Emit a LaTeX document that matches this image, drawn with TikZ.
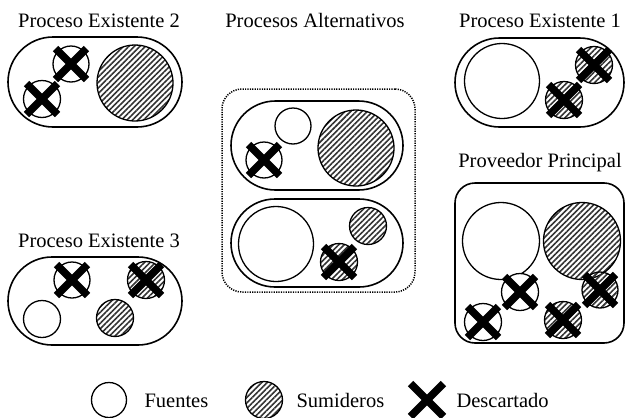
\documentclass[tikz,border=0pt]{standalone}
\usepackage{fontspec}
\setmainfont{Liberation Serif}
\usetikzlibrary{patterns.meta}
\newcommand{\xcross}[2][15.5]{%
  \draw[xline] ([shift={(-#1,-#1)}]#2.center) -- ([shift={(#1,#1)}]#2.center)
               ([shift={(-#1,#1)}]#2.center) -- ([shift={(#1,-#1)}]#2.center);}
\begin{document}
\begin{tikzpicture}[x=1pt,y=-1pt,
  font=\fontsize{20.5}{24}\selectfont,
  title/.style={anchor=base},
  group/.style={draw,line width=1.6pt,rounded corners=#1,inner sep=0pt},
  src/.style={circle,draw,line width=1.3pt,fill=white,inner sep=0pt,minimum size=#1},
  snk/.style={circle,draw,line width=1.3pt,inner sep=0pt,minimum size=#1,
    pattern={Lines[angle=45,distance=3.9pt,line width=1.6pt]},pattern color=black!80},
  xline/.style={line width=7.5pt,line cap=butt}]
\useasboundingbox (0,0) rectangle (627,418);

% ---------- Proceso Existente 2 ----------
\node[title] (t2) at (99,27) {Proceso Existente 2};
\node[group=45pt,minimum width=174pt,minimum height=90pt] (g2) at (95,82) {};
\node[snk=76pt] (g2s) at (135,83) {};
\node[src=36pt] (g2a) at (71,64) {};
\xcross{g2a}
\node[src=37pt] (g2b) at (42,99) {};
\xcross{g2b}

% ---------- Procesos Alternativos ----------
\node[title] (ta) at (315,27) {Procesos Alternativos};
\node[draw,line width=1.5pt,dash pattern=on 1.2pt off 1.2pt,rounded corners=20pt,minimum width=193pt,minimum height=203pt] (alt) at (318.5,190.5) {};
\node[group=44.5pt,minimum width=172pt,minimum height=89pt] (a1) at (317,145.5) {};
\node[src=36pt] (a1a) at (293,126) {};
\node[src=36pt] (a1b) at (264,160) {};
\xcross{a1b}
\node[snk=76pt] (a1s) at (356,148) {};
\node[group=44pt,minimum width=172pt,minimum height=88pt] (a2) at (317,243) {};
\node[src=75pt] (a2a) at (276,244) {};
\node[snk=37pt] (a2s) at (368,226) {};
\node[snk=37pt] (a2t) at (339,262) {};
\xcross{a2t}

% ---------- Proceso Existente 1 ----------
\node[title] (t1) at (540,27) {Proceso Existente 1};
\node[group=44.5pt,minimum width=169pt,minimum height=89pt] (g1) at (539.5,82.5) {};
\node[src=75pt] (g1a) at (502,81) {};
\node[snk=37pt] (g1s) at (594,65) {};
\xcross{g1s}
\node[snk=37pt] (g1t) at (564,100) {};
\xcross{g1t}

% ---------- Proveedor Principal ----------
\node[title] (tp) at (540,167) {Proveedor Principal};
\node[group=20pt,minimum width=169pt,minimum height=160pt] (pp) at (539.5,263) {};
\node[src=77pt] (ppa) at (501,241) {};
\node[snk=77pt] (pps) at (582,241) {};
\node[src=37pt] (ppb) at (520,292) {};
\xcross{ppb}
\node[src=37pt] (ppc) at (483,322) {};
\xcross{ppc}
\node[snk=37pt] (ppd) at (563,320) {};
\xcross{ppd}
\node[snk=36pt] (ppe) at (600,290) {};
\xcross{ppe}

% ---------- Proceso Existente 3 ----------
\node[title] (t3) at (99,247) {Proceso Existente 3};
\node[group=44pt,minimum width=174pt,minimum height=88pt] (g3) at (95,301) {};
\node[src=36pt] (g3a) at (72,280) {};
\xcross{g3a}
\node[snk=37pt] (g3b) at (146,280) {};
\xcross{g3b}
\node[src=37pt] (g3c) at (42,319) {};
\node[snk=37pt] (g3d) at (115,318) {};

% ---------- Legend ----------
\node[src=35pt] (ls) at (109,400) {};
\node[anchor=base west] (lst) at (141,407) {Fuentes};
\node[snk=37pt] (lk) at (264,400) {};
\node[anchor=base west] (lkt) at (293,407) {Sumideros};
\coordinate (lx) at (427,400);
\xcross[16.5]{lx}
\node[anchor=base west] (lxt) at (453,407) {Descartado};
\end{tikzpicture}
\end{document}
